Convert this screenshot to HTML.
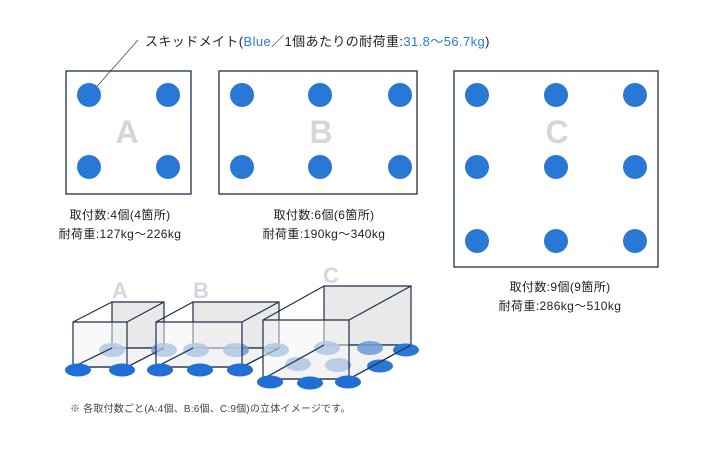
<!DOCTYPE html>
<html><head><meta charset="utf-8"><style>
body{margin:0;background:#fff;}
svg{display:block;font-family:"Liberation Sans","Noto Sans CJK JP",sans-serif;}
</style></head><body>
<svg width="720" height="450" viewBox="0 0 720 450">
<g font-size="13" fill="#222">
<text x="145" y="46" letter-spacing="0.4">スキッドメイト(<tspan fill="#2a78d6">Blue</tspan>／1個あたりの耐荷重:<tspan fill="#2a78d6">31.8～56.7kg</tspan>)</text>
</g>
<line x1="138" y1="40" x2="92" y2="92" stroke="#444" stroke-width="0.8"/>
<g fill="none" stroke="#1b2f4e" stroke-width="1.3">
<rect x="66" y="71" width="125" height="123"/>
<rect x="219" y="71" width="198" height="123"/>
<rect x="454" y="71" width="204" height="196"/>
</g>
<g font-size="32" font-weight="bold" fill="#d6d6d6" text-anchor="middle">
<text x="127" y="143">A</text><text x="321" y="143">B</text><text x="557" y="143">C</text>
</g>
<g fill="#2a78d6">
<circle cx="89" cy="95" r="12"/><circle cx="168" cy="95" r="12"/><circle cx="89" cy="167" r="12"/><circle cx="168" cy="167" r="12"/>
<circle cx="242" cy="95" r="12"/><circle cx="320" cy="95" r="12"/><circle cx="400" cy="95" r="12"/>
<circle cx="242" cy="167" r="12"/><circle cx="320" cy="167" r="12"/><circle cx="400" cy="167" r="12"/>
<circle cx="477" cy="95" r="12"/><circle cx="556" cy="95" r="12"/><circle cx="635" cy="95" r="12"/>
<circle cx="477" cy="167" r="12"/><circle cx="556" cy="167" r="12"/><circle cx="635" cy="167" r="12"/>
<circle cx="477" cy="241" r="12"/><circle cx="556" cy="241" r="12"/><circle cx="635" cy="241" r="12"/>
</g>
<g font-size="12" fill="#222" text-anchor="middle" letter-spacing="0.4">
<text x="120" y="219">取付数:4個(4箇所)</text><text x="120" y="238">耐荷重:127kg～226kg</text>
<text x="324" y="219">取付数:6個(6箇所)</text><text x="324" y="238">耐荷重:190kg～340kg</text>
<text x="560" y="291">取付数:9個(9箇所)</text><text x="560" y="310">耐荷重:286kg～510kg</text>
</g>
<g font-size="22" font-weight="bold" fill="#d6d6d6" text-anchor="middle">
<text x="120" y="298">A</text><text x="201" y="298">B</text><text x="331" y="283">C</text>
</g>
<!-- box A -->
<g stroke="#1b2f4e" stroke-width="1.2">
<polygon points="112,302 164,302 164,348 112,348" fill="#e4e4e4" fill-opacity="0.8"/>
<polygon points="73,367 127,367 164,348 112,348" fill="#ececec" fill-opacity="0.7"/>
<g fill="#6c9bd8" stroke="none" opacity="0.85"><ellipse cx="112" cy="350" rx="13" ry="7"/><ellipse cx="164" cy="350" rx="13" ry="7"/></g>
<polygon points="73,322 127,322 127,367 73,367" fill="#f4f4f4" fill-opacity="0.5"/>
<line x1="73" y1="322" x2="112" y2="302"/><line x1="127" y1="322" x2="164" y2="302"/><line x1="127" y1="367" x2="164" y2="348"/><line x1="73" y1="367" x2="112" y2="348"/>
<g fill="#1f6fd6" stroke="none"><ellipse cx="78" cy="370" rx="13" ry="6.5"/><ellipse cx="122" cy="370" rx="13" ry="6.5"/></g>
</g>
<!-- box B -->
<g stroke="#1b2f4e" stroke-width="1.2">
<polygon points="193,302 279,302 279,348 193,348" fill="#e4e4e4" fill-opacity="0.8"/>
<polygon points="156,367 242,367 279,348 193,348" fill="#ececec" fill-opacity="0.7"/>
<g fill="#6c9bd8" stroke="none" opacity="0.85"><ellipse cx="196" cy="350" rx="13" ry="7"/><ellipse cx="236" cy="350" rx="13" ry="7"/><ellipse cx="276" cy="350" rx="13" ry="7"/></g>
<polygon points="156,322 242,322 242,367 156,367" fill="#f4f4f4" fill-opacity="0.5"/>
<line x1="156" y1="322" x2="193" y2="302"/><line x1="242" y1="322" x2="279" y2="302"/><line x1="242" y1="367" x2="279" y2="348"/><line x1="156" y1="367" x2="193" y2="348"/>
<g fill="#1f6fd6" stroke="none"><ellipse cx="160" cy="370" rx="13" ry="6.5"/><ellipse cx="200" cy="370" rx="13" ry="6.5"/><ellipse cx="240" cy="370" rx="13" ry="6.5"/></g>
</g>
<!-- box C -->
<g stroke="#1b2f4e" stroke-width="1.2">
<polygon points="324,286 411,286 411,345 324,345" fill="#e4e4e4" fill-opacity="0.8"/>
<polygon points="263,379 349,379 411,345 324,345" fill="#ececec" fill-opacity="0.7"/>
<g fill="#6c9bd8" stroke="none" opacity="0.85"><ellipse cx="327" cy="348" rx="13" ry="7"/><ellipse cx="370" cy="348" rx="13" ry="7"/><ellipse cx="298" cy="364" rx="13" ry="7"/><ellipse cx="338" cy="365" rx="13" ry="7"/></g>
<g fill="#2a78d6" stroke="none"><ellipse cx="406" cy="350" rx="13" ry="6.5"/><ellipse cx="380" cy="366" rx="13" ry="6.5"/></g>
<polygon points="263,320 349,320 349,379 263,379" fill="#f4f4f4" fill-opacity="0.5"/>
<line x1="263" y1="320" x2="324" y2="286"/><line x1="349" y1="320" x2="411" y2="286"/><line x1="349" y1="379" x2="411" y2="345"/><line x1="263" y1="379" x2="324" y2="345"/>
<g fill="#1f6fd6" stroke="none"><ellipse cx="270" cy="382" rx="13" ry="6.5"/><ellipse cx="310" cy="383" rx="13" ry="6.5"/><ellipse cx="348" cy="382" rx="13" ry="6.5"/></g>
</g>
<text x="70" y="412" font-size="10" fill="#444" letter-spacing="0.2">※ 各取付数ごと(A:4個、B:6個、C:9個)の立体イメージです。</text>
</svg>
</body></html>
